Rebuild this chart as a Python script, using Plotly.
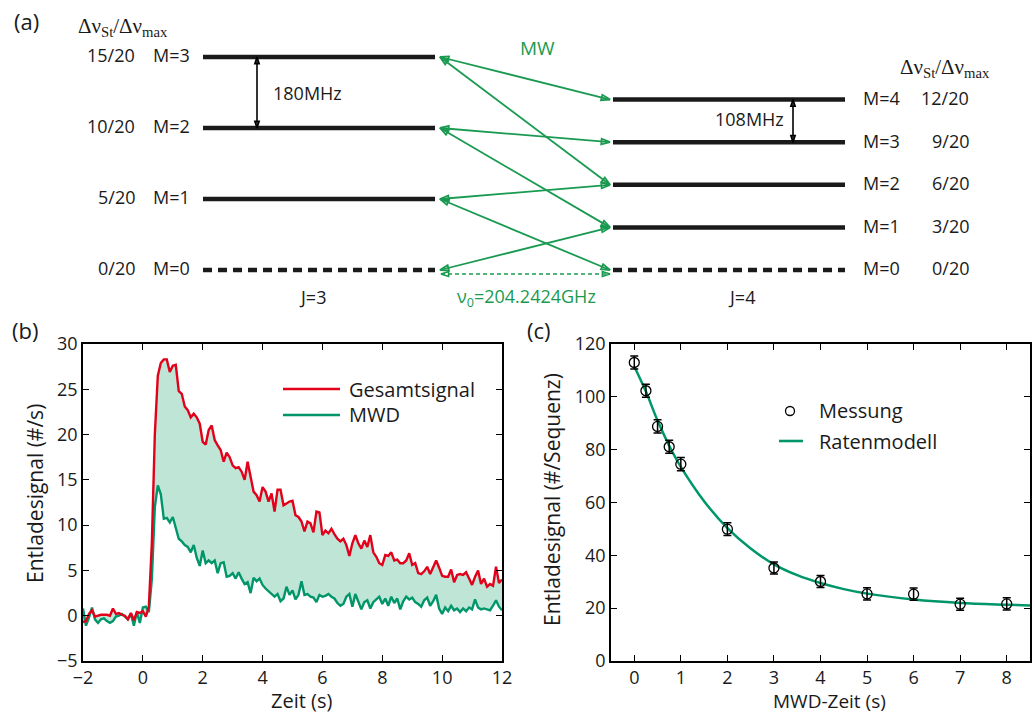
import math
import plotly.graph_objects as go

W, H = 1035, 713

# ---------------- (a) Stark level scheme J=3 -> J=4 ----------------
j3_M = [0, 1, 2, 3]
j3_shift = [0, 5, 10, 15]          # Stark shift in units of Δν_max/20
j4_M = [0, 1, 2, 3, 4]
j4_shift = [0, 3, 6, 9, 12]
shift_den = 20
# microwave transitions (M in J=3, M in J=4)
transitions = [(3, 4), (3, 2), (2, 3), (2, 1), (1, 2), (1, 0), (0, 1)]
split_j3_label = "180MHz"
split_j4_label = "108MHz"
nu0_label = "ν<sub>0</sub>=204.2424GHz"

# ---------------- (b) discharge signal vs. time ----------------
t_start, t_step, n_samples = -2.0, 0.1, 141
t_b = [round(t_start + t_step * i, 1) for i in range(n_samples)]
total_signal = [
    -0.7, -0.6, 0.2, 0.6, -0.1, 0.0, 0.1, 0.1, 0.1, 0.0,
    0.8, 0.2, 0.3, 0.1, 0.0, -0.4, 0.3, -0.5, 0.4, 0.3,
    0.5, -0.1, 1.0, 8.0, 20.0, 26.5, 27.9, 28.3, 28.3, 26.9,
    27.6, 27.7, 24.8, 24.5, 23.1, 22.7, 21.9, 22.3, 21.9, 21.2,
    19.2, 18.9, 20.5, 21.0, 19.4, 18.8, 18.3, 17.0, 18.0, 17.5,
    16.6, 16.3, 16.4, 15.9, 15.0, 17.0, 15.2, 13.7, 13.3, 12.6,
    14.2, 13.7, 12.6, 13.5, 11.5, 13.9, 13.9, 12.2, 12.4, 12.6,
    12.7, 11.1, 10.9, 10.4, 9.3, 10.4, 10.2, 9.2, 11.5, 11.4,
    8.9, 9.4, 9.1, 9.6, 9.0, 8.5, 8.2, 8.5, 7.8, 6.6,
    8.0, 8.9, 8.0, 7.4, 8.3, 7.6, 8.9, 7.0, 6.5, 5.8,
    5.6, 6.7, 6.6, 7.0, 6.1, 6.2, 5.8, 5.8, 6.1, 6.9,
    5.6, 5.8, 4.7, 4.6, 4.9, 5.4, 4.6, 5.4, 6.1, 5.3,
    4.4, 4.3, 4.3, 5.1, 3.7, 4.5, 4.6, 4.5, 4.8, 4.1,
    3.4, 4.3, 5.0, 3.5, 4.1, 3.2, 3.5, 3.3, 5.4, 3.6,
    4.0,
]
mwd_signal = [
    0.8, -1.1, -0.2, 0.9, -0.4, -0.8, -0.4, -0.3, -0.6, -0.8,
    -0.6, -0.1, 0.0, 0.2, -0.1, -0.4, 0.2, -1.1, 0.4, -0.8,
    0.9, 1.0, 0.4, 4.0, 12.0, 14.4, 13.4, 10.7, 10.8, 10.3,
    10.9, 9.6, 8.5, 8.2, 7.8, 7.6, 7.0, 7.8, 6.4, 5.5,
    7.2, 5.8, 6.1, 5.8, 6.1, 4.7, 5.8, 5.9, 4.3, 4.4,
    4.7, 4.1, 4.8, 4.1, 3.5, 3.7, 2.5, 4.2, 3.8, 4.1,
    3.4, 3.0, 2.7, 2.4, 2.1, 2.4, 1.6, 1.9, 3.2, 2.3,
    2.8, 1.8, 2.3, 3.8, 2.3, 2.4, 2.1, 2.0, 1.5, 2.3,
    2.1, 2.2, 2.4, 2.1, 1.9, 1.4, 1.1, 1.3, 2.1, 2.4,
    1.0, 2.4, 1.5, 0.7, 1.5, 1.7, 0.8, 1.5, 1.8, 2.1,
    1.3, 1.9, 1.1, 2.1, 1.4, 1.9, 0.7, 1.6, 2.1, 1.8,
    2.0, 1.5, 1.3, 1.0, 1.7, 2.0, 1.1, 1.6, 2.3, 0.8,
    0.2, 0.9, 0.5, 1.1, 0.6, 0.8, 0.4, 0.8, 0.5, 0.9,
    0.7, 1.8, 0.9, 0.7, 0.8, 0.7, 0.6, 1.1, 1.7, 1.0,
    0.6,
]
b_xticks = [-2, 0, 2, 4, 6, 8, 10, 12]
b_yticks = [-5, 0, 5, 10, 15, 20, 25, 30]

# ---------------- (c) signal vs. MW depletion time ----------------
mwd_time = [0, 0.25, 0.5, 0.75, 1, 2, 3, 4, 5, 6, 7, 8]
measured = [113.0, 102.3, 88.8, 81.1, 74.5, 49.9, 35.2, 30.1, 25.4, 25.3, 21.5, 21.6]
measured_err = [2.5, 2.5, 2.5, 2.5, 2.5, 2.4, 2.3, 2.3, 2.3, 2.3, 2.3, 2.3]
model_time = [0, 0.25, 0.5, 0.75, 1, 1.5, 2, 2.5, 3, 3.5, 4, 4.5, 5, 6, 7, 8, 8.5]
model_rate = [111.5, 102.0, 91.0, 81.5, 73.5, 60.5, 50.3, 42.6, 36.6, 32.5, 29.5,
              27.2, 25.5, 23.3, 22.0, 21.3, 21.0]
c_xticks = [0, 1, 2, 3, 4, 5, 6, 7, 8]
c_yticks = [0, 20, 40, 60, 80, 100, 120]

# ---------------- styling ----------------
FONT = "Open Sans"
TXT = "#1a1a1a"
RED = "#E2001A"
GREEN_LINE = "#00966A"
FILL = "#BFE5D6"
GREEN_MW = "#1A9A50"


def px(x):
    return x / W


def py(y):
    return 1 - y / H


fig = go.Figure()

# ---------------- (a) ----------------
Y3_PX = 284.0            # pixels per unit of Δν_St/Δν_max
Y3_TOP, Y3_BOT = 0, 300  # vertical pixel span of the scheme
Y3_ZERO = 270            # pixel row of zero shift
y3_range = [(Y3_ZERO - Y3_BOT) / Y3_PX, (Y3_ZERO - Y3_TOP) / Y3_PX]

left_span = (203, 435)
right_span = (613, 845)
tip_left, tip_right = 440, 610


def level_y(shift):
    return shift / shift_den


def arrow_angles(x0, y0, x1, y1):
    dx = x1 - x0
    dy_screen = -(y1 - y0) * Y3_PX
    a = math.degrees(math.atan2(dx, -dy_screen))
    return [a + 180, a]


def level_trace(span, y, dashed):
    return go.Scatter(
        x=list(span), y=[y, y], mode="lines", xaxis="x3", yaxis="y3",
        line=dict(color="#1a1a1a", width=4.5, dash="9px,6px" if dashed else "solid"),
        hoverinfo="skip",
    )


for m, s in zip(j3_M, j3_shift):
    fig.add_trace(level_trace(left_span, level_y(s), m == 0))
for m, s in zip(j4_M, j4_shift):
    fig.add_trace(level_trace(right_span, level_y(s), m == 0))

# MW transitions
for m3, m4 in transitions:
    y_a = level_y(j3_shift[j3_M.index(m3)])
    y_b = level_y(j4_shift[j4_M.index(m4)])
    fig.add_trace(go.Scatter(
        x=[tip_left, tip_right], y=[y_a, y_b], mode="lines+markers",
        xaxis="x3", yaxis="y3",
        line=dict(color=GREEN_MW, width=1.8),
        marker=dict(symbol="arrow-open", size=9, color=GREEN_MW,
                    angle=arrow_angles(tip_left, y_a, tip_right, y_b),
                    line=dict(color=GREEN_MW, width=1.8)),
        hoverinfo="skip",
    ))

# zero-field transition frequency (dashed)
y_nu0 = -4 / Y3_PX
fig.add_trace(go.Scatter(
    x=[tip_left + 1, tip_right], y=[y_nu0, y_nu0], mode="lines+markers",
    xaxis="x3", yaxis="y3",
    line=dict(color=GREEN_MW, width=1.6, dash="4px,3px"),
    marker=dict(symbol="arrow-open", size=8, color=GREEN_MW,
                angle=arrow_angles(tip_left, y_nu0, tip_right, y_nu0),
                line=dict(color=GREEN_MW, width=1.6)),
    hoverinfo="skip",
))

# level splittings
for xs, m_hi, m_lo, shifts, Ms in [(257, 3, 2, j3_shift, j3_M), (793, 4, 3, j4_shift, j4_M)]:
    y_hi = level_y(shifts[Ms.index(m_hi)])
    y_lo = level_y(shifts[Ms.index(m_lo)])
    fig.add_trace(go.Scatter(
        x=[xs, xs], y=[y_hi, y_lo], mode="lines+markers", xaxis="x3", yaxis="y3",
        line=dict(color="black", width=1.6),
        marker=dict(symbol="arrow-open", size=7, color="black",
                    angle=arrow_angles(xs, y_hi, xs, y_lo),
                    line=dict(color="black", width=1.6)),
        hoverinfo="skip",
    ))

# ---------------- (b) ----------------
fig.add_trace(go.Scatter(
    x=t_b, y=mwd_signal, mode="lines", name="MWD",
    line=dict(color=GREEN_LINE, width=2.4), xaxis="x", yaxis="y",
))
fig.add_trace(go.Scatter(
    x=t_b, y=total_signal, mode="lines", name="Gesamtsignal",
    fill="tonexty", fillcolor=FILL,
    line=dict(color=RED, width=2.4), xaxis="x", yaxis="y",
))

# ---------------- (c) ----------------
fig.add_trace(go.Scatter(
    x=model_time, y=model_rate, mode="lines", name="Ratenmodell",
    line=dict(color=GREEN_LINE, width=2.5, shape="spline"), xaxis="x2", yaxis="y2",
))
fig.add_trace(go.Scatter(
    x=mwd_time, y=measured, mode="markers", name="Messung",
    error_y=dict(type="data", array=measured_err, color="black", thickness=1.5, width=4),
    marker=dict(symbol="circle-open", size=10, color="black", line=dict(width=1.3)),
    xaxis="x2", yaxis="y2",
))

axis_common = dict(
    showline=True, linecolor="black", linewidth=1.5, mirror="ticks",
    ticks="inside", ticklen=6, tickwidth=1.3, tickcolor="black",
    showgrid=False, zeroline=False, fixedrange=True, automargin=False,
    tickfont=dict(family=FONT, size=18, color=TXT),
)

b_dom_x = [px(83), px(502)]
c_dom_x = [px(611), px(1030)]
bc_dom_y = [py(661), py(344)]

fig.update_layout(
    width=W, height=H, autosize=False,
    margin=dict(l=0, r=0, t=0, b=0, autoexpand=False),
    paper_bgcolor="white", plot_bgcolor="white",
    showlegend=False,
    font=dict(family=FONT, color=TXT),
    xaxis=dict(domain=b_dom_x, range=[-2, 12], tickvals=b_xticks, anchor="y", **axis_common),
    yaxis=dict(domain=bc_dom_y, range=[-5, 30], tickvals=b_yticks, anchor="x", **axis_common),
    xaxis2=dict(domain=c_dom_x, range=[-0.5, 8.5], tickvals=c_xticks, anchor="y2", **axis_common),
    yaxis2=dict(domain=bc_dom_y, range=[0, 120], tickvals=c_yticks, anchor="x2", **axis_common),
    xaxis3=dict(domain=[0, 1], range=[0, W], visible=False, fixedrange=True, anchor="y3"),
    yaxis3=dict(domain=[py(Y3_BOT), py(Y3_TOP)], range=y3_range, visible=False,
                fixedrange=True, anchor="x3"),
)

ann = []


def paper_text(text, x, y, size=18, color=TXT, xanchor="center", angle=0, family=FONT):
    ann.append(dict(text=text, x=px(x), y=py(y), xref="paper", yref="paper",
                    xanchor=xanchor, yanchor="middle", showarrow=False, textangle=angle,
                    font=dict(family=family, size=size, color=color)))


def scheme_text(text, x, y, size=18, color=TXT, xanchor="center"):
    ann.append(dict(text=text, x=x, y=y, xref="x3", yref="y3",
                    xanchor=xanchor, yanchor="middle", showarrow=False,
                    font=dict(family=FONT, size=size, color=color)))


# panel letters
paper_text("(a)", 12, 21, size=22, xanchor="left")
paper_text("(b)", 10, 330, size=22, xanchor="left")
paper_text("(c)", 525, 330, size=22, xanchor="left")

# scheme labels
dnu = "Δν<sub>St</sub>/Δν<sub>max</sub>"
paper_text(dnu, 76, 27, size=21, xanchor="left", family="Liberation Serif")
paper_text(dnu, 898, 68, size=21, xanchor="left", family="Liberation Serif")
for m, s in zip(j3_M, j3_shift):
    scheme_text(f"{s}/{shift_den}", 137, level_y(s) + 0.006, xanchor="right")
    scheme_text(f"M={m}", 192, level_y(s) + 0.006, xanchor="right")
for m, s in zip(j4_M, j4_shift):
    scheme_text(f"M={m}", 861, level_y(s) + 0.006, xanchor="left")
    scheme_text(f"{s}/{shift_den}", 971, level_y(s) + 0.006, xanchor="right")
scheme_text(split_j3_label, 271, (level_y(15) + level_y(10)) / 2, xanchor="left")
scheme_text(split_j4_label, 786, (level_y(12) + level_y(9)) / 2 + 0.005, xanchor="right")
paper_text("MW", 537, 48, size=19, color=GREEN_MW)
paper_text("J=3", 312, 297, size=18)
paper_text("J=4", 741, 297, size=18)
paper_text(nu0_label, 526, 297, size=18, color=GREEN_MW)

# axis titles
paper_text("Entladesignal (#/s)", 35, 494, size=21, angle=-90)
paper_text("Zeit (s)", 301, 700, size=20)
paper_text("Entladesignal (#/Sequenz)", 552, 500, size=21, angle=-90)
paper_text("MWD-Zeit (s)", 829, 701, size=19)

# legends
paper_text("Gesamtsignal", 347, 389, size=20, xanchor="left")
paper_text("MWD", 347, 415, size=20, xanchor="left")
paper_text("Messung", 817, 411, size=20, xanchor="left")
paper_text("Ratenmodell", 817, 441, size=20, xanchor="left")

shapes = [
    dict(type="line", xref="paper", yref="paper", x0=px(283), x1=px(340), y0=py(389), y1=py(389),
         line=dict(color=RED, width=2.6)),
    dict(type="line", xref="paper", yref="paper", x0=px(283), x1=px(340), y0=py(415), y1=py(415),
         line=dict(color=GREEN_LINE, width=2.6)),
    dict(type="line", xref="paper", yref="paper", x0=px(779), x1=px(803), y0=py(441), y1=py(441),
         line=dict(color=GREEN_LINE, width=2.6)),
    dict(type="circle", xref="paper", yref="paper", xsizemode="pixel", ysizemode="pixel",
         xanchor=px(790), yanchor=py(411), x0=-4.5, x1=4.5, y0=-4.5, y1=4.5,
         line=dict(color="black", width=1.3)),
]

fig.update_layout(annotations=ann, shapes=shapes)
fig.write_html("out.html")
